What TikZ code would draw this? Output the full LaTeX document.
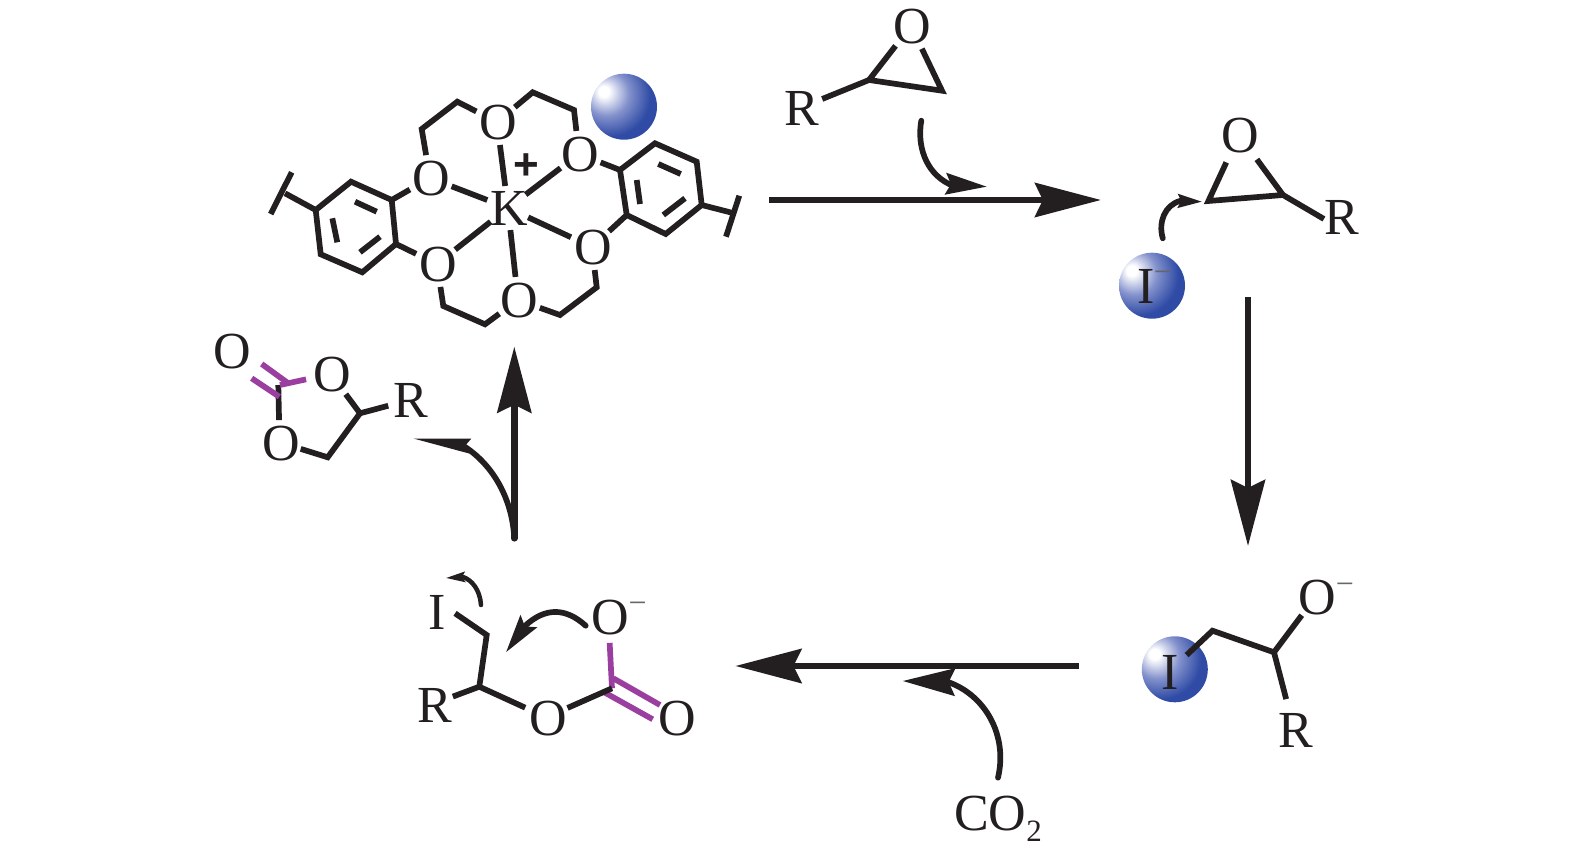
\documentclass[tikz,border=0pt]{standalone}
\usepackage{fontspec}
\setmainfont{Liberation Serif}
\newfontfamily\plusfont{Liberation Sans}
\usetikzlibrary{arrows.meta}
\definecolor{ink}{HTML}{231F20}
\definecolor{bondpurple}{HTML}{9A3FA0}
\definecolor{ballblue}{HTML}{2F4BA5}
\definecolor{ballmid}{HTML}{8391CC}
\pgfdeclareradialshading{blueball}{\pgfpoint{-16bp}{12bp}}{color(0bp)=(white); color(4bp)=(white); color(17bp)=(ballmid); color(31bp)=(ballblue); color(100bp)=(ballblue)}
\newcommand\atm[1]{\makebox[0pt]{\hspace{3pt}\raisebox{-18pt}[0pt][0pt]{#1}}}
\newcommand\sgn[1]{\makebox[0pt]{\raisebox{-.25em}[0pt][0pt]{#1}}}
\tikzset{
  atom/.style={circle,inner sep=0pt,minimum size=#1,font=\fontsize{52}{52}\selectfont,text=ink},
  atom/.default=46,
  minus sign/.style={inner sep=0pt,font=\fontsize{32}{32}\selectfont,text=black!60},
  plus sign/.style={inner sep=0pt,font=\fontsize{44}{44}\plusfont\bfseries,text=ink},
  sphere/.style={circle,inner sep=0pt,minimum size=66,shading=blueball},
  bond/.style={draw=ink,line width=5.7pt},
  cbond/.style={draw=bondpurple,line width=5.7pt},
  mainarrow/.style={draw=ink,line width=6.5pt,-{Stealth[length=66pt,width=34pt,inset=8pt,fill=ink]}},
  curved/.style={draw=ink,line width=5.7pt,line cap=round},
}
\begin{document}
\begin{tikzpicture}[x=1pt,y=-1pt]
\useasboundingbox (0,0) rectangle (1575,858);

% spheres
\node[sphere] (ballA) at (624,106.7) {};
\node[sphere] (ballB) at (1152,285.7) {};
\node[sphere] (ballC) at (1174.8,669.3) {};

% crown ether atoms
\node[atom] (Ot) at (497,122) {\atm{O}};
\node[atom] (Our) at (579,154) {\atm{O}};
\node[atom] (Oul) at (430,178) {\atm{O}};
\node[atom=44] (K) at (508,208) {\atm{K}};
\node[atom] (Olr) at (592,247) {\atm{O}};
\node[atom] (Oll) at (437,264) {\atm{O}};
\node[atom] (Ob) at (518,300) {\atm{O}};
\node[plus sign] (plus) at (526,169) {\sgn{+}};

\coordinate (a) at (391.7,200); \coordinate (b) at (351,181.7);
\coordinate (c) at (315.7,210); \coordinate (d) at (320.7,254.3);
\coordinate (e) at (362.3,272.3); \coordinate (f) at (396,244);
\coordinate (ab1) at (355,201.7); \coordinate (ab2) at (376.7,211.7);
\coordinate (cd1) at (332.3,218.3); \coordinate (cd2) at (337.3,242.3);
\coordinate (ef1) at (360,252.3); \coordinate (ef2) at (380,236.7);
\coordinate (tl) at (285,193.3); \coordinate (tl1) at (291.7,172.3); \coordinate (tl2) at (270.7,214);

\coordinate (g) at (620,170); \coordinate (h) at (655,143.3);
\coordinate (i) at (696.7,161.7); \coordinate (j) at (701.7,205);
\coordinate (k) at (665.7,234); \coordinate (l) at (626.7,215);
\coordinate (hi1) at (658.3,164); \coordinate (hi2) at (680.7,174);
\coordinate (gl1) at (636.7,180); \coordinate (gl2) at (640,204);
\coordinate (jk1) at (663.3,215); \coordinate (jk2) at (685,198.3);
\coordinate (tr) at (731.7,212.7); \coordinate (tr1) at (739.3,195.7); \coordinate (tr2) at (726,236.7);

\coordinate (c1) at (421.7,129); \coordinate (c2) at (457.3,101.7);
\coordinate (c3) at (532.7,92.3); \coordinate (c4) at (574,110);
\coordinate (c5) at (443.3,306); \coordinate (c6) at (485,324.3);
\coordinate (c7) at (560,315); \coordinate (c8) at (596.7,287.3);

\draw[bond] (Ot) -- (K);
\draw[bond] (Our) -- (K);
\draw[bond] (Oul) -- (K);
\draw[bond] (Olr) -- (K);
\draw[bond] (Oll) -- (K);
\draw[bond] (Ob) -- (K);
\draw[bond] (Oul) -- (c1) -- (c2) -- (Ot);
\draw[bond] (Ot) -- (c3) -- (c4) -- (Our);
\draw[bond] (Oll) -- (c5) -- (c6) -- (Ob);
\draw[bond] (Ob) -- (c7) -- (c8) -- (Olr);
\draw[bond] (a) -- (b) -- (c) -- (d) -- (e) -- (f) -- cycle;
\draw[bond] (ab1) -- (ab2);
\draw[bond] (cd1) -- (cd2);
\draw[bond] (ef1) -- (ef2);
\draw[bond] (Oul) -- (a);
\draw[bond] (Oll) -- (f);
\draw[bond] (c) -- (tl);
\draw[bond] (tl1) -- (tl2);
\draw[bond] (g) -- (h) -- (i) -- (j) -- (k) -- (l) -- cycle;
\draw[bond] (hi1) -- (hi2);
\draw[bond] (gl1) -- (gl2);
\draw[bond] (jk1) -- (jk2);
\draw[bond] (Our) -- (g);
\draw[bond] (Olr) -- (l);
\draw[bond] (j) -- (tr);
\draw[bond] (tr1) -- (tr2);

% top epoxide
\node[atom=50] (Oe) at (911,26) {\atm{O}};
\node[atom=46] (Re) at (800.7,107.7) {\atm{R}};
\coordinate (ea) at (869,80); \coordinate (eb) at (942,90.7);
\draw[bond] (Re) -- (ea);
\draw[bond] (Oe) -- (ea) -- (eb) -- (Oe);
\coordinate (s1) at (921.3,120.7); \coordinate (m1) at (949,184); \coordinate (t1) at (987,186.7);
\draw[curved,-{Stealth[length=41pt,width=21pt,inset=5pt,fill=ink]}] (s1) .. controls (917,145) and (925,172) .. (m1) -- (t1);

% main arrows
\coordinate (tA) at (769,200); \coordinate (tB) at (1101,200);
\draw[mainarrow] (tA) -- (tB);
\coordinate (dA) at (1248,297); \coordinate (dB) at (1248,546);
\draw[mainarrow] (dA) -- (dB);
\coordinate (bA) at (1079,666); \coordinate (bB) at (735.4,666);
\draw[mainarrow] (bA) -- (bB);
\coordinate (uA) at (514.3,538.3); \coordinate (uB) at (514.3,346.7);
\draw[mainarrow,line cap=round] (uA) -- (uB);

% right epoxide
\node[atom=60] (Oe2) at (1239,135) {\atm{O}};
\node[atom=32] (Re2) at (1340,217) {\atm{R}};
\coordinate (e2a) at (1208.4,201); \coordinate (e2b) at (1283,195);
\draw[bond] (Oe2) -- (e2a) -- (e2b) -- (Oe2);
\draw[bond] (e2b) -- (Re2.187);
\node[atom=40] (Ib) at (1144.5,285.7) {\atm{I}};
\node[minus sign] (mB) at (1163,275) {\sgn{−}};
\coordinate (s2) at (1162.8,238.3); \coordinate (m2) at (1180,201); \coordinate (t2) at (1202.5,201.7);
\draw[curved,-{Stealth[length=24pt,width=13pt,inset=3pt,fill=ink]}] (s2) .. controls (1158,222) and (1165,205) .. (m2) -- (t2);

% bottom right
\node[atom=48] (Ic) at (1169,671.7) {\atm{I}};
\node[atom] (Oc) at (1315.7,596.7) {\atm{O}};
\node[minus sign] (mC) at (1345,586) {\sgn{−}};
\node[atom=62] (Rc) at (1294,729.3) {\atm{R}};
\coordinate (ca) at (1212.5,630.7); \coordinate (cb) at (1274,652.3);
\draw[bond] (Ic) -- (ca) -- (cb) -- (Oc);
\draw[bond] (cb) -- (Rc);

% CO2
\node[inner sep=0pt,anchor=base west,font=\fontsize{52}{52}\selectfont,text=ink] (co2) at (954,830.7) {CO{\fontsize{31}{31}\selectfont\raisebox{-11pt}{2}}};
\coordinate (s3) at (998,777.7); \coordinate (m3) at (948,682); \coordinate (t3) at (902.6,681);
\draw[curved,-{Stealth[length=52pt,width=27pt,inset=6pt,fill=ink]}] (s3) .. controls (1008,735) and (985,695) .. (m3) -- (t3);

% carbonate intermediate
\node[atom=38] (Id) at (436,611) {\atm{I}};
\node[atom=42] (Rd) at (433,704) {\atm{R}};
\node[atom] (Od) at (546.3,717.3) {\atm{O}};
\node[atom=52] (Oe3) at (608.3,616.7) {\atm{O}};
\node[minus sign] (mD) at (637.7,605.7) {\sgn{−}};
\node[atom=30] (Oe4) at (676,717.3) {\atm{O}};
\coordinate (da) at (486.7,635); \coordinate (db) at (479.3,686.7); \coordinate (dc) at (612,688.3);
\coordinate (dd1) at (613.3,678.3); \coordinate (dd2) at (660,705);
\coordinate (de1) at (605,692.7); \coordinate (de2) at (652.7,719.3);
\draw[cbond] (Oe3) -- (dc);
\draw[cbond] (dd1) -- (dd2);
\draw[cbond] (de1) -- (de2);
\draw[bond] (Id.-7) -- (da) -- (db) -- (Rd);
\draw[bond] (db) -- (Od);
\draw[bond] (Od) -- (dc);
\coordinate (s4) at (481,605); \coordinate (m4) at (463,577); \coordinate (t4) at (445.7,578);
\draw[curved,line width=4.5pt,-{Stealth[length=19pt,width=10pt,inset=3pt,fill=ink]}] (s4) .. controls (480,590) and (472,580) .. (m4) -- (t4);
\coordinate (s5) at (585.7,625.7); \coordinate (m5) at (526,625); \coordinate (t5) at (506,652.3);
\draw[curved,-{Stealth[length=38pt,width=20pt,inset=6pt,fill=ink]}] (s5) .. controls (565,607) and (545,608) .. (m5) -- (t5);

% cyclic carbonate
\node[atom] (Of) at (231,350.7) {\atm{O}};
\node[atom=50] (Og) at (330.7,374) {\atm{O}};
\node[atom=44] (Oh) at (279.5,442.3) {\atm{O}};
\node[atom=44] (Rf) at (409.7,400) {\atm{R}};
\coordinate (fc) at (278.3,385);
\coordinate (fa) at (360,413.3); \coordinate (fb) at (327.7,457.3);
\coordinate (fd1) at (261.7,364); \coordinate (fd2) at (288.3,383.3);
\coordinate (fe1) at (251.7,378.3); \coordinate (fe2) at (279.3,396.7);
\coordinate (fs) at (280,385);
\draw[bond] (fc) -- (Oh);
\draw[cbond] (fd1) -- (fd2);
\draw[cbond] (fe1) -- (fe2);
\draw[cbond] (fs) -- (Og);
\draw[bond] (Og) -- (fa) -- (fb) -- (Oh);
\draw[bond] (fa) -- (Rf);
\coordinate (m6) at (462,445); \coordinate (t6) at (411.7,438.3);
\draw[curved,-{Stealth[length=58pt,width=14pt,inset=4pt,fill=ink]}] (uA) .. controls (512,495) and (490,462) .. (m6) -- (t6);
\end{tikzpicture}
\end{document}
